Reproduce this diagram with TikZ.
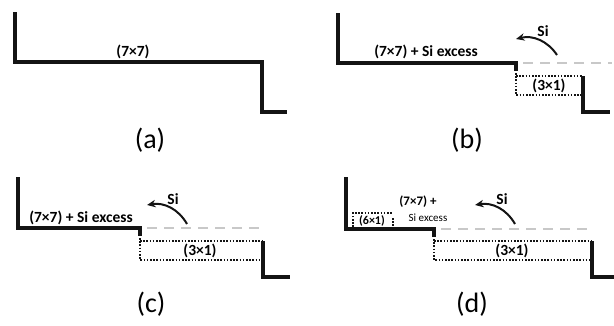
\documentclass[tikz,border=0pt]{standalone}
\usepackage{fontspec}
\setmainfont{Carlito}
\usetikzlibrary{arrows.meta}
\definecolor{ink}{RGB}{20,20,20}
\definecolor{ghost}{RGB}{200,200,200}
\tikzset{
  >={Stealth[length=3mm,width=2.6mm]},
  terrace/.style={draw=ink,line width=3.2pt,line join=miter},
  recon/.style={draw=ink,line width=1.8pt,dash pattern=on 1.6pt off 1.6pt},
  edge/.style={draw=ghost,line width=1.5pt,dash pattern=on 10pt off 7pt},
  hop/.style={->,draw=ink,line width=2pt},
  tag/.style={font=\bfseries\fontsize{15.5}{17}\selectfont,inner sep=1pt},
  small tag/.style={font=\bfseries\fontsize{13}{14}\selectfont,inner sep=1pt},
  caption/.style={font=\fontsize{28}{30}\selectfont},
}
\begin{document}
\begin{tikzpicture}[x=1pt,y=-1pt]
  \useasboundingbox (0,0) rectangle (614,325);
  % (a) clean step
  \draw[terrace] (15,12) -- (15,62) -- (262,62) -- (262,112) -- (287,112);
  \node[tag,anchor=south] (a77) at (133,60) {(7×7)};
  \node[caption] (capa) at (150,140) {(a)};
  % (b) Si leaves the upper terrace
  \draw[terrace] (338,13) -- (338,63) -- (516,63) -- (516,71);
  \draw[recon] (516,73) -- (516,95) -- (583,95) (516,76) -- (583,76);
  \draw[terrace] (583,76) -- (583,112) -- (610,112);
  \draw[edge] (523,63) -- (612,63);
  \node[tag,anchor=south] (b77) at (426,60) {(7×7) + Si excess};
  \node[tag] (b31) at (549,86) {(3×1)};
  \coordinate (bfrom) at (557,55);
  \coordinate (bto) at (516,39);
  \draw[hop] (bfrom) to[bend right=35] (bto);
  \node[tag] (bsi) at (543,31) {Si};
  \node[caption] (capb) at (467,140) {(b)};
  % (c) the (3x1) strip grows
  \draw[terrace] (18,177) -- (18,228) -- (140,228) -- (140,236);
  \draw[recon] (140,238) -- (140,260) -- (263,260) (140,241) -- (263,241);
  \draw[terrace] (263,241) -- (263,277) -- (290,277);
  \draw[edge] (147,228) -- (262,228);
  \node[tag,anchor=south] (c77) at (81,226) {(7×7) + Si excess};
  \node[tag] (c31) at (200,251) {(3×1)};
  \coordinate (cfrom) at (187,224);
  \coordinate (cto) at (147,205);
  \draw[hop] (cfrom) to[bend right=35] (cto);
  \node[tag] (csi) at (173,199) {Si};
  \node[caption] (capc) at (151,304) {(c)};
  % (d) (6x1) appears on the upper terrace
  \draw[terrace] (346,177) -- (346,229) -- (434,229) -- (434,237);
  \draw[recon] (434,239) -- (434,260) -- (592,260) (434,241) -- (592,241);
  \draw[terrace] (592,241) -- (592,277) -- (614,277);
  \draw[edge] (441,229) -- (592,229);
  \draw[recon,line width=1.5pt] (353,227) -- (353,213) -- (393,213) (393,218) -- (393,227);
  \node[small tag,font=\bfseries\fontsize{12}{13}\selectfont] (d61) at (372,221) {(6×1)};
  \node[small tag] (d77) at (418,202) {(7×7) +};
  \node[small tag,font=\fontsize{11}{12}\selectfont] (dsi) at (428,218) {Si excess};
  \node[tag] (d31) at (512,251) {(3×1)};
  \coordinate (dfrom) at (515,224);
  \coordinate (dto) at (475,205);
  \draw[hop] (dfrom) to[bend right=35] (dto);
  \node[tag] (dsiatom) at (502,199) {Si};
  \node[caption] (capd) at (472,304) {(d)};
\end{tikzpicture}
\end{document}
